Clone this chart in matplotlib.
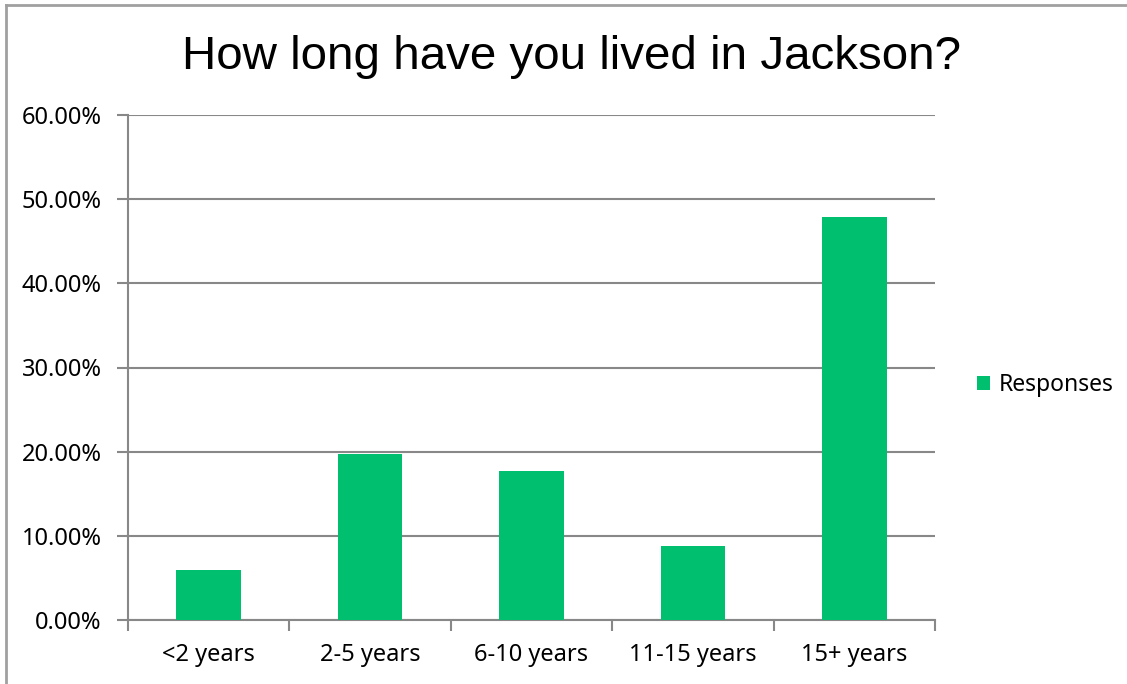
import matplotlib
matplotlib.use('Agg')
import matplotlib.pyplot as plt
import numpy as np
from matplotlib.lines import Line2D

plt.rcParams['font.family'] = 'Noto Sans'

# data (percent of responses)
categories = ['<2 years', '2-5 years', '6-10 years', '11-15 years', '15+ years']
responses = [5.9, 19.7, 17.7, 8.8, 47.9]
yticks = [0, 10, 20, 30, 40, 50, 60]

clrGreen = (0/255, 191/255, 111/255)
clrGrid = (136/255, 136/255, 136/255)

fig = plt.figure(figsize=(11.27, 6.84), dpi=100)
ax = fig.add_axes([128/1127, 1 - 620/684, 807/1127, 505/684])

x = np.arange(len(categories))
ax.bar(x, responses, 0.4, color=clrGreen, label='Responses', zorder=3)

ax.set_xlim(-0.5, len(categories) - 0.5)
ax.set_ylim(0, 60)
ax.set_yticks(yticks)
ax.set_yticklabels(['{:.2f}%'.format(v) for v in yticks], fontsize=17)
ax.set_xticks(x)
ax.set_xticklabels(categories, fontsize=17)
ax.set_xticks(np.arange(len(categories) + 1) - 0.5, minor=True)

ax.tick_params(axis='x', which='major', length=0, pad=16.5)
ax.tick_params(axis='x', which='minor', length=8, width=1.5, color=clrGrid)
ax.tick_params(axis='y', length=8, width=1.5, color=clrGrid, pad=11)

ax.yaxis.grid(True, color=clrGrid, linewidth=1.5, zorder=0)
ax.set_axisbelow(True)
for s in ['top', 'right']:
    ax.spines[s].set_visible(False)
for s in ['left', 'bottom']:
    ax.spines[s].set_color(clrGrid)
    ax.spines[s].set_linewidth(1.5)

fig.text(572/1127, 1 - 57/684, 'How long have you lived in Jackson?',
         family='Liberation Sans', fontsize=34.2, ha='center', va='center')

fig.legend(loc='center left', bbox_to_anchor=(956/1127, 1 - 385/684), frameon=False,
           fontsize=16.5, handlelength=0.6, handleheight=0.6, handletextpad=0.35)

# outer chart frame (top and left edges visible)
fig.add_artist(Line2D([6/1127, 1], [1 - 5/684, 1 - 5/684], color=(160/255,)*3, linewidth=2))
fig.add_artist(Line2D([6/1127, 6/1127], [0, 1 - 5/684], color=(160/255,)*3, linewidth=2))

fig.savefig('out.png', dpi=100)
